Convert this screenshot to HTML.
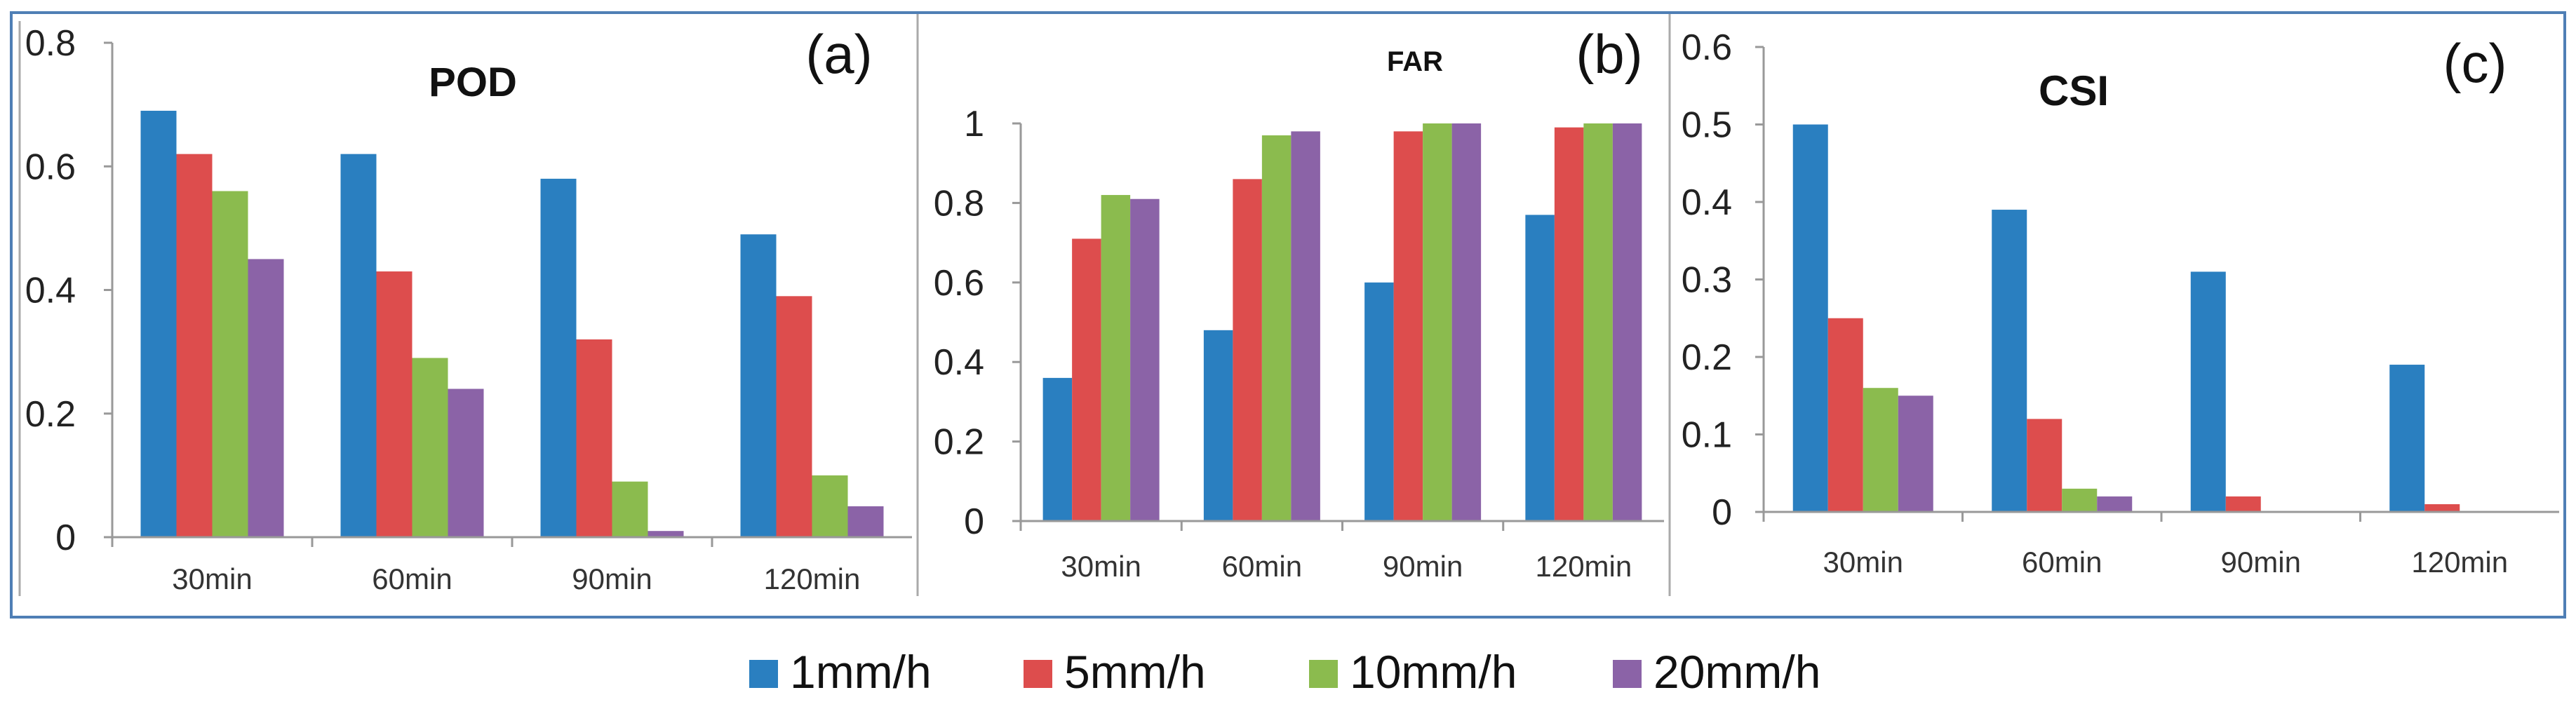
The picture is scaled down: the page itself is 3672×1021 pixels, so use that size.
<!DOCTYPE html>
<html><head><meta charset="utf-8"><style>
html,body{margin:0;padding:0;background:#fff}
svg{display:block}
text{font-family:"Liberation Sans",sans-serif}
</style></head><body>
<svg id="fig" width="3672" height="1021" viewBox="0 0 3672 1021" xmlns="http://www.w3.org/2000/svg">
<rect x="16" y="18" width="3640" height="862" fill="none" stroke="#4f7fb5" stroke-width="4"/>
<line x1="28" y1="30" x2="28" y2="850" stroke="#aaa" stroke-width="3"/>
<line x1="1308" y1="20" x2="1308" y2="850" stroke="#aaa" stroke-width="3"/>
<line x1="2380" y1="20" x2="2380" y2="850" stroke="#aaa" stroke-width="3"/>
<g id="legend"></g>
</svg>
<script>
const categories = ["30min","60min","90min","120min"];
const seriesNames = ["1mm/h","5mm/h","10mm/h","20mm/h"];
const colors = ["#2a7fc0","#dd4d4d","#8bbb4e","#8b63a7"];
const podS1 = [0.69,0.62,0.58,0.49];
const podS5 = [0.62,0.43,0.32,0.39];
const podS10 = [0.56,0.29,0.09,0.10];
const podS20 = [0.45,0.24,0.01,0.05];
const farS1 = [0.36,0.48,0.60,0.77];
const farS5 = [0.71,0.86,0.98,0.99];
const farS10 = [0.82,0.97,1.00,1.00];
const farS20 = [0.81,0.98,1.00,1.00];
const csiS1 = [0.50,0.39,0.31,0.19];
const csiS5 = [0.25,0.12,0.02,0.01];
const csiS10 = [0.16,0.03,0.00,0.00];
const csiS20 = [0.15,0.02,0.00,0.00];
const podTicks = ["0","0.2","0.4","0.6","0.8"];
const farTicks = ["0","0.2","0.4","0.6","0.8","1"];
const csiTicks = ["0","0.1","0.2","0.3","0.4","0.5","0.6"];

const NS = "http://www.w3.org/2000/svg";
const svg = document.getElementById("fig");
function mk(tag, attrs, parent){
  const e = document.createElementNS(NS, tag);
  for (const k in attrs) e.setAttribute(k, attrs[k]);
  (parent||svg).appendChild(e);
  return e;
}
function panel(cfg){
  const g = mk("g", {});
  
  
  const ticks = cfg.ticks.map(Number);
  const yMax = ticks[ticks.length-1];
  const y = v => cfg.y0 - (v / yMax) * (cfg.y0 - cfg.yTop);
  const cw = (cfg.xEnd - cfg.x0) / categories.length;
  const x = i => cfg.x0 + i * cw;
  // axes
  const ya = mk("line", {x1:cfg.x0, y1:cfg.yTop, x2:cfg.x0, y2:cfg.y0, stroke:"#999", "stroke-width":3}, g);
  
  
  cfg.ticks.forEach((t, i) => {
    const v = ticks[i];
    const tk = mk("line", {x1:cfg.x0-12, y1:y(v), x2:cfg.x0, y2:y(v), stroke:"#999", "stroke-width":3}, g);
    
    
    const tl = mk("text", {x:cfg.labelX, y:y(v)+18, "text-anchor":"end", "font-size":52, fill:"#222"}, g);
    tl.textContent = t;
    
    
  });
  categories.forEach((c, i) => {
    const tk = mk("line", {x1:x(i), y1:cfg.y0, x2:x(i), y2:cfg.y0+14, stroke:"#999", "stroke-width":3}, g);
    
    
    const tl = mk("text", {x:x(i)+cw/2, y:cfg.catY, "text-anchor":"middle", "font-size":42, fill:"#333"}, g);
    tl.textContent = c;
    
    
  });
  const bw = cfg.bw;
  const off = (cw - bw*4)/2;
  cfg.series.forEach((s, si) => {
    s.forEach((v, i) => {
      const r = mk("rect", {x:x(i)+off+si*bw, y:y(v), width:bw, height:cfg.y0-y(v), fill:colors[si]}, g);
      
      
    });
  });
  const xa = mk("line", {x1:cfg.x0, y1:cfg.y0, x2:cfg.xEnd, y2:cfg.y0, stroke:"#999", "stroke-width":3}, g);
  
  
  const tt = mk("text", {x:cfg.titleX, y:cfg.titleY, "text-anchor":"middle", "font-size":cfg.titleSize, "font-weight":"bold", fill:"#111"}, g);
  tt.textContent = cfg.title;
  
  
  const pl = mk("text", {x:cfg.tagX, y:cfg.tagY, "text-anchor":"middle", "font-size":78, fill:"#111"}, g);
  pl.textContent = cfg.tag;
  
  
}
panel({id:"pod", title:"POD", tag:"(a)", ticks:podTicks, series:[podS1,podS5,podS10,podS20],
  x0:160, xEnd:1300, y0:766, yTop:61, bw:51, labelX:108, catY:840,
  titleX:674, titleY:137, titleSize:58, tagX:1196, tagY:104});
panel({id:"far", title:"FAR", tag:"(b)", ticks:farTicks, series:[farS1,farS5,farS10,farS20],
  x0:1455, xEnd:2372, y0:743, yTop:176, bw:41.5, labelX:1403, catY:822,
  titleX:2017, titleY:101, titleSize:40, tagX:2294, tagY:104});
panel({id:"csi", title:"CSI", tag:"(c)", ticks:csiTicks, series:[csiS1,csiS5,csiS10,csiS20],
  x0:2514, xEnd:3648, y0:730, yTop:67, bw:50, labelX:2469, catY:816,
  titleX:2956, titleY:150, titleSize:60, tagX:3528, tagY:117});

const lg = document.getElementById("legend");
const legX = [1068,1459,1866,2299];
seriesNames.forEach((n, i) => {
  const e = mk("g", {}, lg);
  
  
  mk("rect", {x:legX[i], y:941, width:41, height:40, fill:colors[i]}, e);
  const t = mk("text", {x:legX[i]+58, y:981, "font-size":66, fill:"#111"}, e);
  t.textContent = n;
});
</script>
</body></html>
